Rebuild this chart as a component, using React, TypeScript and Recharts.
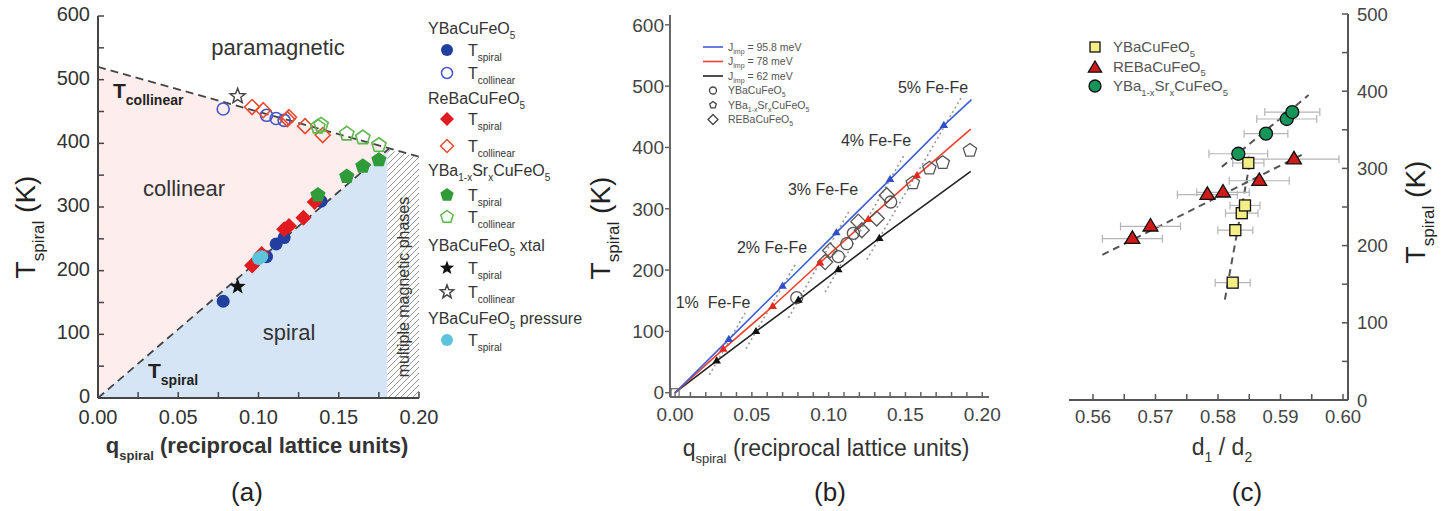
import React from "react";
import { ComposedChart, XAxis, YAxis, Area, Line, Scatter, ErrorBar } from "recharts";

const FONT = "'Liberation Sans', Arial, Helvetica, sans-serif";

type P = { x: number; y: number; e?: number };

// ---------- (a) phase diagram ----------
const ybcoSpiralA: P[] = [
  { x: 0.078, y: 152 }, { x: 0.105, y: 222 }, { x: 0.111, y: 242 }, { x: 0.116, y: 252 }, { x: 0.139, y: 309 },
];
const ybcoCollA: P[] = [
  { x: 0.078, y: 454 }, { x: 0.105, y: 444 }, { x: 0.111, y: 439 }, { x: 0.116, y: 436 },
];
const reSpiralA: P[] = [
  { x: 0.096, y: 208 }, { x: 0.102, y: 226 }, { x: 0.116, y: 265 }, { x: 0.119, y: 270 }, { x: 0.128, y: 283 }, { x: 0.135, y: 308 },
];
const reCollA: P[] = [
  { x: 0.096, y: 457 }, { x: 0.103, y: 452 }, { x: 0.118, y: 438 }, { x: 0.119, y: 441 }, { x: 0.129, y: 427 }, { x: 0.14, y: 413 },
];
const srSpiralA: P[] = [
  { x: 0.137, y: 319 }, { x: 0.155, y: 348 }, { x: 0.165, y: 364 }, { x: 0.175, y: 374 },
];
const srCollA: P[] = [
  { x: 0.137, y: 426 }, { x: 0.139, y: 429 }, { x: 0.155, y: 415 }, { x: 0.165, y: 409 }, { x: 0.175, y: 397 },
];
const xtalSpiralA: P[] = [{ x: 0.087, y: 175 }];
const xtalCollA: P[] = [{ x: 0.087, y: 474 }];
const pressureA: P[] = [{ x: 0.1, y: 219 }, { x: 0.102, y: 222 }];

const upperLineA: P[] = [{ x: 0, y: 520 }, { x: 0.2, y: 379 }];
const lowerLineA: P[] = [{ x: 0, y: 0 }, { x: 0.1815, y: 392 }];
const collinearFillA: P[] = [{ x: 0, y: 520 }, { x: 0.1815, y: 392 }];
const spiralFillA: P[] = [{ x: 0, y: 0 }, { x: 0.1803, y: 389 }];
const hatchFillA: P[] = [{ x: 0.1803, y: 390 }, { x: 0.2, y: 379 }];

const aXTicks = [0, 0.025, 0.05, 0.075, 0.1, 0.125, 0.15, 0.175, 0.2];
const aXLabels = ["0.00", "", "0.05", "", "0.10", "", "0.15", "", "0.20"];
const aYTicks = [0, 50, 100, 150, 200, 250, 300, 350, 400, 450, 500, 550, 600];
const aYLabels = ["0", "", "100", "", "200", "", "300", "", "400", "", "500", "", "600"];

// ---------- (b) model lines ----------
const blueTriB: P[] = [
  { x: 0.035, y: 87 }, { x: 0.07, y: 174 }, { x: 0.105, y: 261 }, { x: 0.14, y: 348 }, { x: 0.175, y: 436 },
];
const redTriB: P[] = [
  { x: 0.0314, y: 71 }, { x: 0.0636, y: 141 }, { x: 0.0944, y: 212 }, { x: 0.1258, y: 283 }, { x: 0.1574, y: 354 },
];
const blackTriB: P[] = [
  { x: 0.0271, y: 52 }, { x: 0.0527, y: 100 }, { x: 0.0803, y: 151 }, { x: 0.1063, y: 201 }, { x: 0.133, y: 252 },
];
const blueLineB: P[] = [{ x: 0, y: 0 }, ...blueTriB, { x: 0.193, y: 478 }];
const redLineB: P[] = [{ x: 0, y: 0 }, ...redTriB, { x: 0.1925, y: 430 }];
const blackLineB: P[] = [{ x: 0, y: 0 }, ...blackTriB, { x: 0.1925, y: 361 }];

const guidesB: P[][] = [
  [{ x: 0.0223, y: 29 }, { x: 0.0456, y: 130 }],
  [{ x: 0.0462, y: 72 }, { x: 0.0792, y: 213 }],
  [{ x: 0.0738, y: 122 }, { x: 0.1139, y: 299 }],
  [{ x: 0.0977, y: 164 }, { x: 0.1497, y: 390 }],
  [{ x: 0.1248, y: 217 }, { x: 0.1867, y: 483 }],
];
const ybcoB: P[] = [
  { x: 0.0792, y: 155 }, { x: 0.1063, y: 222 }, { x: 0.1118, y: 243 }, { x: 0.1161, y: 260 }, { x: 0.1404, y: 311 },
];
const srB: P[] = [
  { x: 0.1548, y: 342 }, { x: 0.1656, y: 366 }, { x: 0.1743, y: 375 }, { x: 0.192, y: 395 },
];
const reB: P[] = [
  { x: 0.0977, y: 213 }, { x: 0.1009, y: 232 }, { x: 0.1193, y: 279 }, { x: 0.1216, y: 265 }, { x: 0.1313, y: 284 }, { x: 0.1378, y: 322 },
];
const originB: P[] = [{ x: 0, y: 0 }];
const fractionLabelsB = ["1%  Fe-Fe", "2% Fe-Fe", "3% Fe-Fe", "4% Fe-Fe", "5% Fe-Fe"];

const bXTicks = [0, 0.01, 0.02, 0.03, 0.04, 0.05, 0.06, 0.07, 0.08, 0.09, 0.1, 0.11, 0.12, 0.13, 0.14, 0.15, 0.16, 0.17, 0.18, 0.19, 0.2];
const bXLabels = ["0.00", "", "", "", "", "0.05", "", "", "", "", "0.10", "", "", "", "", "0.15", "", "", "", "", "0.20"];
const bYTicks = [0, 100, 200, 300, 400, 500, 600];
const bYLabels = ["0", "100", "200", "300", "400", "500", "600"];

// ---------- (c) T_spiral vs d1/d2 ----------
const ybcoC: P[] = [
  { x: 0.58235, y: 152, e: 0.0028 }, { x: 0.58277, y: 220, e: 0.0028 }, { x: 0.5838, y: 242, e: 0.0026 },
  { x: 0.58432, y: 252, e: 0.0024 }, { x: 0.58485, y: 307, e: 0.0025 },
];
const reC: P[] = [
  { x: 0.5663, y: 209, e: 0.0048 }, { x: 0.5692, y: 225, e: 0.0048 }, { x: 0.5783, y: 266, e: 0.0048 },
  { x: 0.5808, y: 269, e: 0.0042 }, { x: 0.5866, y: 284, e: 0.0048 }, { x: 0.59216, y: 312, e: 0.0072 },
];
const srC: P[] = [
  { x: 0.58325, y: 319, e: 0.0047 }, { x: 0.58768, y: 345, e: 0.0035 }, { x: 0.591, y: 364, e: 0.0048 }, { x: 0.59189, y: 373, e: 0.0044 },
];
const ybcoFitC: P[] = [{ x: 0.5811, y: 130 }, { x: 0.5852, y: 312 }];
const reFitC: P[] = [{ x: 0.5615, y: 188 }, { x: 0.5935, y: 318 }];
const srFitC: P[] = [{ x: 0.5806, y: 302 }, { x: 0.5945, y: 395 }];

const cXTicks = [0.56, 0.565, 0.57, 0.575, 0.58, 0.585, 0.59, 0.595, 0.6];
const cXLabels = ["0.56", "", "0.57", "", "0.58", "", "0.59", "", "0.60"];
const cYTicks = [0, 50, 100, 150, 200, 250, 300, 350, 400, 450, 500];
const cYLabels = ["0", "", "100", "", "200", "", "300", "", "400", "", "500"];

// ---------- helpers ----------
const fmt = (ticks: number[], labels: string[]) => (v: number) => {
  const i = ticks.findIndex((t) => Math.abs(t - v) < 1e-9);
  return i >= 0 ? labels[i] : "";
};

function Marker({ kind, cx, cy, r, fill, stroke, sw = 1.3 }: any) {
  if (cx == null || cy == null) return null;
  const common = { fill, stroke, strokeWidth: sw };
  const poly = (pts: number[][]) => <polygon points={pts.map((p) => p.join(",")).join(" ")} {...common} strokeLinejoin="miter" />;
  switch (kind) {
    case "circle":
      return <circle cx={cx} cy={cy} r={r} {...common} />;
    case "square":
      return <rect x={cx - r} y={cy - r} width={2 * r} height={2 * r} {...common} />;
    case "diamond":
      return poly([[cx, cy - r], [cx + r, cy], [cx, cy + r], [cx - r, cy]]);
    case "triangle":
      return poly([[cx, cy - r], [cx + r * 0.95, cy + r * 0.6], [cx - r * 0.95, cy + r * 0.6]]);
    case "pentagon": {
      const pts = [0, 1, 2, 3, 4].map((k) => {
        const a = ((-90 + 72 * k) * Math.PI) / 180;
        return [cx + r * Math.cos(a), cy + r * Math.sin(a)];
      });
      return poly(pts);
    }
    case "star": {
      const pts = Array.from({ length: 10 }, (_, k) => {
        const a = ((-90 + 36 * k) * Math.PI) / 180;
        const rr = k % 2 === 0 ? r : r * 0.42;
        return [cx + rr * Math.cos(a), cy + rr * Math.sin(a)];
      });
      return poly(pts);
    }
    default:
      return null;
  }
}

const shape = (kind: string, r: number, fill: string, stroke: string, sw = 1.3) => (p: any) => (
  <Marker kind={kind} cx={p.cx} cy={p.cy} r={r} fill={fill} stroke={stroke} sw={sw} />
);

type Seg = [string, boolean?];
function Rich({ x, y, segs, size, sub, anchor = "start", rotate = false, weight = "normal", fill = "#333" }: any) {
  let lvl = 0;
  const shift = size * 0.32;
  return (
    <text
      x={x}
      y={y}
      fontSize={size}
      fontFamily={FONT}
      fontWeight={weight}
      fill={fill}
      textAnchor={anchor}
      style={{ whiteSpace: "pre" }}
      transform={rotate ? `rotate(-90 ${x} ${y})` : undefined}
    >
      {(segs as Seg[]).map(([t, s], i) => {
        const isSub = !!s;
        const dy = isSub && lvl === 0 ? shift : !isSub && lvl === 1 ? -shift : 0;
        lvl = isSub ? 1 : 0;
        return (
          <tspan key={i} dy={dy} fontSize={isSub ? sub : size}>
            {t}
          </tspan>
        );
      })}
    </text>
  );
}

const C_BLUE = "#213f9e";
const C_BLUE_O = "#4656c8";
const C_RED = "#e11b1f";
const C_RED_O = "#ea4a2c";
const C_GREEN = "#2f9b39";
const C_GREEN_O = "#5db64b";
const C_CYAN = "#5cc4dc";

const tickA = { fill: "#333", fontSize: 20, fontFamily: FONT };
const tickAY = { ...tickA, dy: -2 };
const tickB = { fill: "#444", fontSize: 19, fontFamily: FONT };
const tickC = { fill: "#444", fontSize: 18.5, fontFamily: FONT };

function PanelA() {
  const axisLine = { stroke: "#444", strokeWidth: 2 };
  const tickLine = { stroke: "#444", strokeWidth: 1.5 };
  return (
    <ComposedChart width={440} height={440} margin={{ top: 16, right: 21, bottom: 12, left: 38 }}>
      <XAxis dataKey="x" type="number" domain={[0, 0.2]} ticks={aXTicks} interval={0} allowDataOverflow
        tickFormatter={fmt(aXTicks, aXLabels)} tick={tickA} tickSize={-6} tickMargin={18} axisLine={axisLine} tickLine={tickLine} height={30} />
      <XAxis xAxisId="top" orientation="top" type="number" domain={[0, 0.2]} ticks={aXTicks} interval={0}
        tick={false} tickSize={-6} axisLine={axisLine} tickLine={tickLine} height={0} />
      <YAxis dataKey="y" type="number" domain={[0, 600]} ticks={aYTicks} interval={0} allowDataOverflow
        tickFormatter={fmt(aYTicks, aYLabels)} tick={tickAY} tickSize={-6} tickMargin={14} axisLine={axisLine} tickLine={tickLine} width={60} />
      <YAxis yAxisId="right" orientation="right" type="number" domain={[0, 600]} ticks={aYTicks} interval={0}
        tick={false} tickSize={-6} axisLine={axisLine} tickLine={tickLine} width={0} />

      <Area data={collinearFillA} dataKey="y" type="linear" stroke="none" fill="#fdeded" fillOpacity={1} isAnimationActive={false} activeDot={false} />
      <Area data={spiralFillA} dataKey="y" type="linear" stroke="none" fill="#d5e5f6" fillOpacity={1} isAnimationActive={false} activeDot={false} />
      <Area data={hatchFillA} dataKey="y" type="linear" stroke="none" fill="#ffffff" fillOpacity={1} isAnimationActive={false} activeDot={false} />
      <Area data={hatchFillA} dataKey="y" type="linear" stroke="none" fill="url(#hatchA)" fillOpacity={1} isAnimationActive={false} activeDot={false} />

      <Line data={upperLineA} dataKey="y" type="linear" stroke="#444" strokeWidth={1.8} strokeDasharray="8 5" dot={false} activeDot={false} isAnimationActive={false} />
      <Line data={lowerLineA} dataKey="y" type="linear" stroke="#444" strokeWidth={1.8} strokeDasharray="8 5" dot={false} activeDot={false} isAnimationActive={false} />

      <Scatter data={ybcoCollA} dataKey="y" shape={shape("circle", 6, "none", C_BLUE_O, 1.6)} isAnimationActive={false} />
      <Scatter data={reCollA} dataKey="y" shape={shape("diamond", 7.5, "none", C_RED_O, 1.6)} isAnimationActive={false} />
      <Scatter data={srCollA} dataKey="y" shape={shape("pentagon", 7.5, "none", C_GREEN_O, 1.6)} isAnimationActive={false} />
      <Scatter data={xtalCollA} dataKey="y" shape={shape("star", 8, "none", "#444", 1.4)} isAnimationActive={false} />
      <Scatter data={ybcoSpiralA} dataKey="y" shape={shape("circle", 6.5, C_BLUE, "none")} isAnimationActive={false} />
      <Scatter data={reSpiralA} dataKey="y" shape={shape("diamond", 8, C_RED, "none")} isAnimationActive={false} />
      <Scatter data={srSpiralA} dataKey="y" shape={shape("pentagon", 8, C_GREEN, "none")} isAnimationActive={false} />
      <Scatter data={xtalSpiralA} dataKey="y" shape={shape("star", 8.5, "#111", "none")} isAnimationActive={false} />
      <Scatter data={pressureA} dataKey="y" shape={shape("circle", 6.5, C_CYAN, "none")} isAnimationActive={false} />
    </ComposedChart>
  );
}

function PanelB() {
  const axisLine = { stroke: "#666", strokeWidth: 2 };
  const tickLine = { stroke: "#666", strokeWidth: 1.5 };
  return (
    <ComposedChart width={450} height={440} margin={{ top: 15, right: 21, bottom: 13, left: 50 }}>
      <XAxis dataKey="x" type="number" domain={[-0.0033, 0.2044]} ticks={bXTicks} interval={0} allowDataOverflow
        tickFormatter={fmt(bXTicks, bXLabels)} tick={tickB} tickSize={-5} tickMargin={16} axisLine={axisLine} tickLine={tickLine} height={30} />
      <XAxis xAxisId="top" orientation="top" type="number" domain={[-0.0033, 0.2044]} tick={false} tickLine={false} axisLine={axisLine} height={0} />
      <YAxis dataKey="y" type="number" domain={[-7, 616]} ticks={bYTicks} interval={0} allowDataOverflow
        tickFormatter={fmt(bYTicks, bYLabels)} tick={tickB} tickSize={5} tickMargin={1} axisLine={axisLine} tickLine={tickLine} width={60} />
      <YAxis yAxisId="right" orientation="right" type="number" domain={[-7, 616]} tick={false} tickLine={false} axisLine={axisLine} width={0} />

      {guidesB.map((g, i) => (
        <Line key={i} data={g} dataKey="y" type="linear" stroke="#999" strokeWidth={1.6} strokeDasharray="2 3" dot={false} activeDot={false} isAnimationActive={false} />
      ))}
      <Line data={blackLineB} dataKey="y" type="linear" stroke="#222" strokeWidth={1.6} dot={false} activeDot={false} isAnimationActive={false} />
      <Line data={redLineB} dataKey="y" type="linear" stroke="#f0402c" strokeWidth={1.6} dot={false} activeDot={false} isAnimationActive={false} />
      <Line data={blueLineB} dataKey="y" type="linear" stroke="#3f5fd6" strokeWidth={1.6} dot={false} activeDot={false} isAnimationActive={false} />

      <Scatter data={ybcoB} dataKey="y" shape={shape("circle", 6, "none", "#555", 1.3)} isAnimationActive={false} />
      <Scatter data={reB} dataKey="y" shape={shape("diamond", 7.5, "none", "#555", 1.3)} isAnimationActive={false} />
      <Scatter data={srB} dataKey="y" shape={shape("pentagon", 7, "none", "#555", 1.3)} isAnimationActive={false} />
      <Scatter data={originB} dataKey="y" shape={shape("square", 4, "none", "#666", 1.2)} isAnimationActive={false} />
      <Scatter data={blackTriB} dataKey="y" shape={shape("triangle", 4.5, "#111", "none")} isAnimationActive={false} />
      <Scatter data={redTriB} dataKey="y" shape={shape("triangle", 4.5, "#e8281c", "none")} isAnimationActive={false} />
      <Scatter data={blueTriB} dataKey="y" shape={shape("triangle", 4.5, "#2f4fc8", "none")} isAnimationActive={false} />
    </ComposedChart>
  );
}

function PanelC() {
  const axisLine = { stroke: "#555", strokeWidth: 2 };
  const tickLine = { stroke: "#555", strokeWidth: 1.5 };
  const dom: [number, number] = [0.55616, 0.6008];
  return (
    <ComposedChart width={423} height={440} margin={{ top: 14, right: 35, bottom: 10, left: 49 }}>
      <XAxis dataKey="x" type="number" domain={dom} ticks={cXTicks} interval={0} allowDataOverflow
        tickFormatter={fmt(cXTicks, cXLabels)} tick={tickC} tickSize={-6} tickMargin={16} axisLine={axisLine} tickLine={tickLine} height={30} />
      <XAxis xAxisId="top" orientation="top" type="number" domain={dom} tick={false} tickLine={false} axisLine={axisLine} height={0} />
      <YAxis dataKey="y" orientation="right" type="number" domain={[0, 500]} ticks={cYTicks} interval={0} allowDataOverflow
        tickFormatter={fmt(cYTicks, cYLabels)} tick={tickC} tickSize={-6} tickMargin={15} axisLine={axisLine} tickLine={tickLine} width={60} />
      <YAxis yAxisId="left" orientation="left" type="number" domain={[0, 500]} ticks={cYTicks} interval={0}
        tick={false} tickSize={-6} axisLine={axisLine} tickLine={tickLine} width={0} />

      <Line data={reFitC} dataKey="y" type="linear" stroke="#555" strokeWidth={2} strokeDasharray="7 5" dot={false} activeDot={false} isAnimationActive={false} />
      <Line data={srFitC} dataKey="y" type="linear" stroke="#555" strokeWidth={2} strokeDasharray="7 5" dot={false} activeDot={false} isAnimationActive={false} />
      <Line data={ybcoFitC} dataKey="y" type="linear" stroke="#555" strokeWidth={2} strokeDasharray="7 5" dot={false} activeDot={false} isAnimationActive={false} />

      <Scatter data={reC} dataKey="y" shape={shape("triangle", 7.8, "#cf1a1a", "#111", 1.3)} isAnimationActive={false}>
        <ErrorBar dataKey="e" direction="x" width={4} stroke="#b5b5b5" strokeWidth={1.2} />
      </Scatter>
      <Scatter data={ybcoC} dataKey="y" shape={shape("square", 5.5, "#f4ee86", "#111", 1.3)} isAnimationActive={false}>
        <ErrorBar dataKey="e" direction="x" width={4} stroke="#b5b5b5" strokeWidth={1.2} />
      </Scatter>
      <Scatter data={srC} dataKey="y" shape={shape("circle", 6.5, "#16955a", "#111", 1.3)} isAnimationActive={false}>
        <ErrorBar dataKey="e" direction="x" width={4} stroke="#b5b5b5" strokeWidth={1.2} />
      </Scatter>
    </ComposedChart>
  );
}

const O5: Seg[] = [["YBaCuFeO"], ["5", true]];
const RE5: Seg[] = [["ReBaCuFeO"], ["5", true]];
const SR5: Seg[] = [["YBa"], ["1-x", true], ["Sr"], ["x", true], ["CuFeO"], ["5", true]];

function Overlay() {
  const Tsub = (s: string): Seg[] => [["T"], [s, true]];
  const legA: [number, string][] = [
    [28, "h0"], [50, "e0"], [73, "e1"], [98, "h1"], [119, "e2"], [146, "e3"], [170, "h2"], [195, "e4"], [217, "e5"],
    [245, "h3"], [268, "e6"], [292, "e7"], [318, "h4"], [340, "e8"],
  ];
  const headsA: Seg[][] = [O5, RE5, SR5, [...O5, [" xtal"]], [...O5, [" pressure"]]];
  const entriesA = [
    { k: "circle", r: 6, f: C_BLUE, s: "none", t: "spiral" },
    { k: "circle", r: 5.5, f: "none", s: C_BLUE_O, t: "collinear" },
    { k: "diamond", r: 7, f: C_RED, s: "none", t: "spiral" },
    { k: "diamond", r: 6.5, f: "none", s: C_RED_O, t: "collinear" },
    { k: "pentagon", r: 7, f: C_GREEN, s: "none", t: "spiral" },
    { k: "pentagon", r: 6.5, f: "none", s: C_GREEN_O, t: "collinear" },
    { k: "star", r: 7.5, f: "#111", s: "none", t: "spiral" },
    { k: "star", r: 7, f: "none", s: "#444", t: "collinear" },
    { k: "circle", r: 6, f: C_CYAN, s: "none", t: "spiral" },
  ];
  const fracPos = [[713, 308], [772, 253], [823, 195], [876, 146], [933, 93]];
  return (
    <svg width={1443} height={511} style={{ position: "absolute", left: 0, top: 0, pointerEvents: "none" }}>
      {/* panel (a) annotations */}
      <text x={278} y={55} fontSize={22} fontFamily={FONT} fill="#333" textAnchor="middle">paramagnetic</text>
      <text x={184} y={196} fontSize={22} fontFamily={FONT} fill="#333" textAnchor="middle">collinear</text>
      <text x={289} y={340} fontSize={22} fontFamily={FONT} fill="#333" textAnchor="middle">spiral</text>
      <Rich x={113} y={98} segs={Tsub("collinear")} size={21} sub={14} weight="bold" fill="#222" />
      <Rich x={148} y={378} segs={Tsub("spiral")} size={21} sub={14} weight="bold" fill="#222" />
      <text x={409} y={287} fontSize={16} fontFamily={FONT} fill="#333" textAnchor="middle" transform="rotate(-90 409 287)">
        multiple magnetic phases
      </text>

      {/* panel (a) legend */}
      {legA.map(([y, id]) => {
        const n = Number(id.slice(1));
        if (id[0] === "h") return <Rich key={id} x={428} y={y + 6} segs={headsA[n]} size={16} sub={10} fill="#333" />;
        const e = entriesA[n];
        return (
          <g key={id}>
            <Marker kind={e.k} cx={447} cy={y} r={e.r} fill={e.f} stroke={e.s} sw={1.5} />
            <Rich x={468} y={y + 6} segs={Tsub(e.t)} size={16} sub={10} fill="#333" />
          </g>
        );
      })}

      {/* axis titles */}
      <Rich x={35} y={227} segs={[["T"], ["spiral", true], [" (K)"]]} size={28} sub={17} anchor="middle" rotate fill="#222" />
      <Rich x={257} y={453} segs={[["q"], ["spiral", true], [" (reciprocal lattice units)"]]} size={22} sub={13} anchor="middle" weight="bold" fill="#333" />
      <Rich x={610} y={228} segs={[["T"], ["spiral", true], [" (K)"]]} size={28} sub={17} anchor="middle" rotate fill="#222" />
      <Rich x={826} y={456} segs={[["q"], ["spiral", true], [" (reciprocal lattice units)"]]} size={23} sub={13} anchor="middle" fill="#333" />
      <Rich x={1425} y={212} segs={[["T"], ["spiral", true], [" (K)"]]} size={28} sub={17} anchor="middle" rotate fill="#222" />
      <Rich x={1222} y={455} segs={[["d"], ["1", true], [" / d"], ["2", true]]} size={23} sub={14} anchor="middle" fill="#333" />

      {/* panel (b) fraction labels */}
      {fractionLabelsB.map((t, i) => (
        <text key={t} x={fracPos[i][0]} y={fracPos[i][1]} fontSize={16} fontFamily={FONT} fill="#333" textAnchor="middle" style={{ whiteSpace: "pre" }}>
          {t}
        </text>
      ))}

      {/* panel (b) legend */}
      {[
        ["#3f5fd6", "95.8"],
        ["#f0402c", "78"],
        ["#222", "62"],
      ].map(([c, v], i) => (
        <g key={v}>
          <line x1={703} x2={723} y1={47 + i * 14.5} y2={47 + i * 14.5} stroke={c} strokeWidth={1.6} />
          <Rich x={728} y={50.5 + i * 14.5} segs={[["J"], ["imp", true], [` = ${v} meV`]]} size={10.5} sub={7} fill="#555" />
        </g>
      ))}
      <Marker kind="circle" cx={713} cy={90.5} r={3.5} fill="none" stroke="#444" sw={1.3} />
      <Rich x={728} y={94} segs={[["YBaCuFeO"], ["5", true]]} size={10.5} sub={7} fill="#555" />
      <Marker kind="pentagon" cx={713} cy={105} r={3.5} fill="none" stroke="#444" sw={1.3} />
      <Rich x={728} y={108.5} segs={[["YBa"], ["1-x", true], ["Sr"], ["x", true], ["CuFeO"], ["5", true]]} size={10.5} sub={7} fill="#555" />
      <Marker kind="diamond" cx={713} cy={119.5} r={5} fill="none" stroke="#444" sw={1.3} />
      <Rich x={728} y={123} segs={[["REBaCuFeO"], ["5", true]]} size={10.5} sub={7} fill="#555" />

      {/* panel (c) legend */}
      <Marker kind="square" cx={1095} cy={47} r={5} fill="#f4ee86" stroke="#111" sw={1.3} />
      <Rich x={1113} y={52} segs={[["YBaCuFeO"], ["5", true]]} size={15} sub={9.5} fill="#555" />
      <Marker kind="triangle" cx={1095} cy={68} r={7} fill="#cf1a1a" stroke="#111" sw={1.3} />
      <Rich x={1113} y={71.5} segs={[["REBaCuFeO"], ["5", true]]} size={15} sub={9.5} fill="#555" />
      <Marker kind="circle" cx={1095} cy={86} r={6} fill="#16955a" stroke="#111" sw={1.3} />
      <Rich x={1113} y={91} segs={[["YBa"], ["1-x", true], ["Sr"], ["x", true], ["CuFeO"], ["5", true]]} size={15} sub={9.5} fill="#555" />

      {/* panel letters */}
      <text x={247} y={501} fontSize={26} fontFamily={FONT} fill="#222" textAnchor="middle">(a)</text>
      <text x={830} y={501} fontSize={26} fontFamily={FONT} fill="#222" textAnchor="middle">(b)</text>
      <text x={1247} y={501} fontSize={26} fontFamily={FONT} fill="#222" textAnchor="middle">(c)</text>
    </svg>
  );
}

export default function App() {
  return (
    <div style={{ position: "absolute", left: 0, top: 0, width: 1443, height: 511, background: "#fff", overflow: "hidden", fontFamily: FONT }}>
      <svg width={0} height={0} style={{ position: "absolute" }}>
        <defs>
          <pattern id="hatchA" patternUnits="userSpaceOnUse" width={6} height={6}>
            <path d="M0,6 L6,0 M-1.5,1.5 L1.5,-1.5 M4.5,7.5 L7.5,4.5" stroke="#8a8a8a" strokeWidth={0.9} />
          </pattern>
        </defs>
      </svg>
      <div style={{ position: "absolute", left: 0, top: 0 }}>
        <PanelA />
      </div>
      <div style={{ position: "absolute", left: 560, top: 0 }}>
        <PanelB />
      </div>
      <div style={{ position: "absolute", left: 1020, top: 0 }}>
        <PanelC />
      </div>
      <Overlay />
    </div>
  );
}
